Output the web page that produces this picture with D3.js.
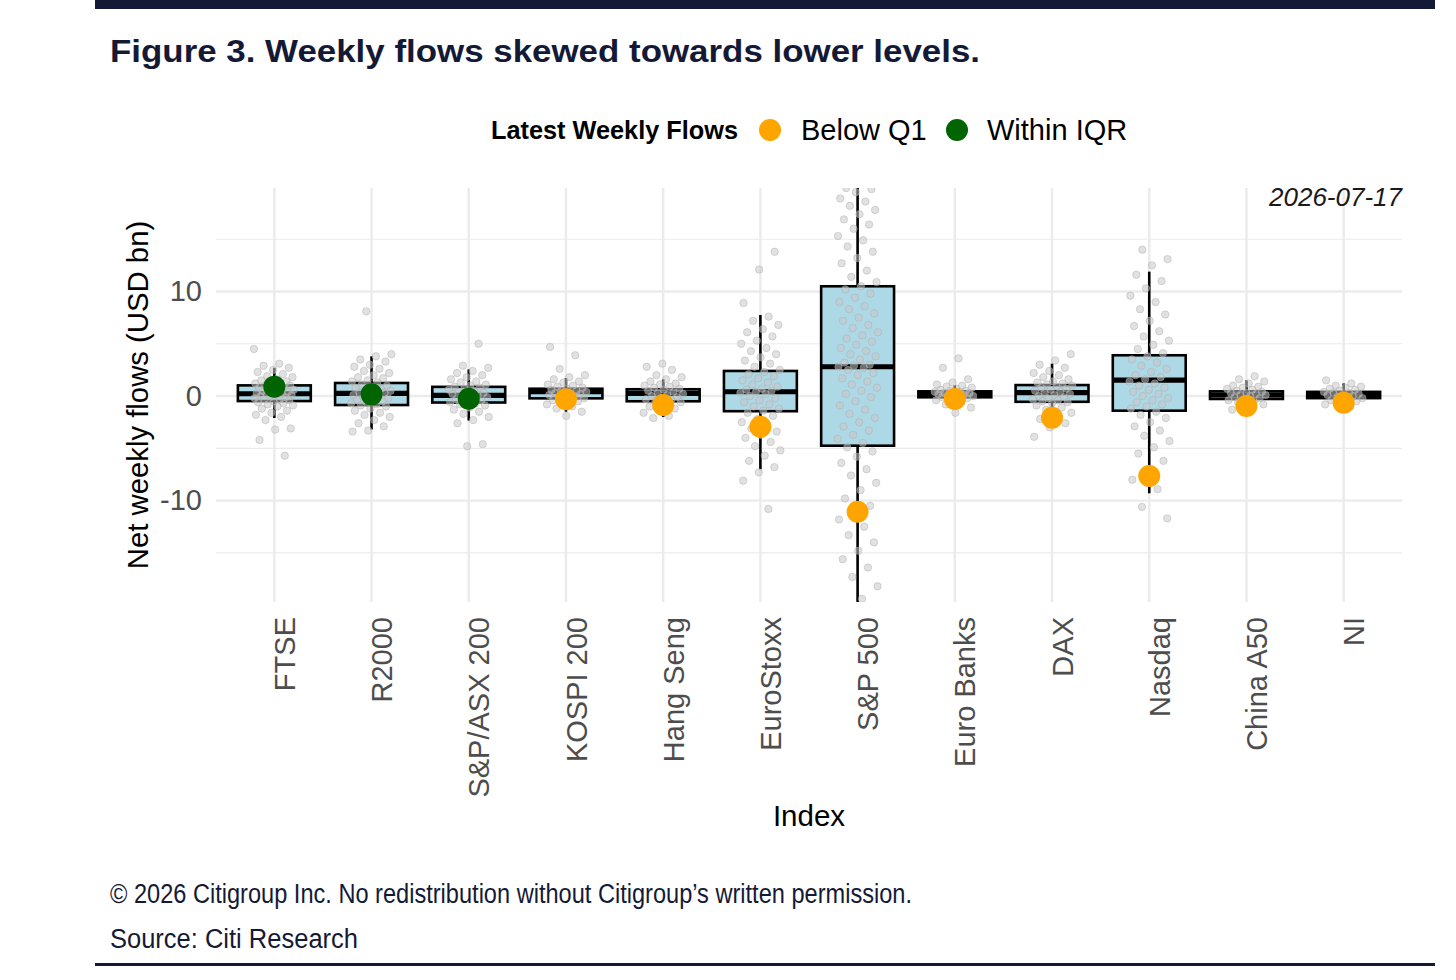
<!DOCTYPE html>
<html>
<head>
<meta charset="utf-8">
<script src="https://cdn.jsdelivr.net/npm/d3@7"></script>
<style>
  body { margin: 0; background: #fff; }
  svg text { font-family: "Liberation Sans", Arial, sans-serif; }
</style>
</head>
<body>
<svg id="chart" width="1456" height="980"></svg>
<script>
// categories in plot order
var categories = ["FTSE", "R2000", "S&P/ASX 200", "KOSPI 200", "Hang Seng", "EuroStoxx",
  "S&P 500", "Euro Banks", "DAX", "Nasdaq", "China A50", "NI"];

// box stats (USD bn)
var q1        = [-0.48, -0.86, -0.62, -0.22, -0.50, -1.45, -4.75, -0.12, -0.55, -1.40, -0.28, -0.20];
var medians   = [ 0.22,  0.26,  0.06,  0.42,  0.26,  0.41,  2.80,  0.20,  0.32,  1.53,  0.10,  0.10];
var q3        = [ 1.02,  1.25,  0.88,  0.70,  0.65,  2.40, 10.50,  0.45,  1.05,  3.90,  0.45,  0.40];
var whiskLow  = [-2.10, -3.20, -2.35, -1.50, -2.00, -7.00, -24.0, -0.80, -2.50, -9.30, -1.00, -0.70];
var whiskHigh = [ 2.70,  3.80,  2.55,  1.70,  1.60,  7.75,  24.0,  1.05,  3.10, 11.90,  1.50,  1.20];

// latest week
var latest       = [0.90, 0.16, -0.26, -0.30, -0.86, -2.93, -11.07, -0.29, -2.07, -7.65, -0.96, -0.64];
var latestStatus = ["Within IQR", "Within IQR", "Within IQR", "Below Q1", "Below Q1", "Below Q1",
  "Below Q1", "Below Q1", "Below Q1", "Below Q1", "Below Q1", "Below Q1"];

// weekly history (approximate)
var histFTSE = [4.5, 3.1, 2.9, 2.7, 2.5, 2.3, 2.1, 1.9, 1.8, 1.6, 1.5, 1.4, 1.3, 1.2, 1.1, 1.0, 1.0, 0.9, 0.8, 0.8, 0.7, 0.6, 0.6, 0.5, 0.4, 0.4, 0.3, 0.2, 0.2, 0.1, 0.1, 0.0, -0.1, -0.1, -0.2, -0.3, -0.3, -0.4, -0.5, -0.6, -0.7, -0.8, -0.9, -1.0, -1.2, -1.4, -1.6, -1.8, -2.0, -2.3, -3.1, -3.2, -4.2, -5.7];
var histR2000 = [8.1, 4.0, 3.8, 3.5, 3.3, 3.0, 2.8, 2.6, 2.4, 2.2, 2.0, 1.8, 1.7, 1.5, 1.4, 1.3, 1.1, 1.0, 0.9, 0.8, 0.7, 0.6, 0.5, 0.4, 0.3, 0.3, 0.2, 0.1, 0.0, -0.1, -0.2, -0.3, -0.4, -0.5, -0.6, -0.7, -0.8, -0.9, -1.0, -1.2, -1.4, -1.6, -1.8, -2.0, -2.3, -2.6, -2.9, -3.3, -3.4];
var histASX = [5.0, 2.9, 2.7, 2.4, 2.2, 2.0, 1.8, 1.6, 1.4, 1.3, 1.1, 1.0, 0.9, 0.8, 0.7, 0.6, 0.5, 0.4, 0.3, 0.2, 0.2, 0.1, 0.0, -0.1, -0.2, -0.3, -0.4, -0.5, -0.6, -0.7, -0.8, -0.9, -1.1, -1.3, -1.5, -1.7, -2.0, -2.3, -2.6, -4.6, -4.8];
var histKOSPI = [4.7, 3.9, 2.6, 2.0, 1.8, 1.6, 1.4, 1.3, 1.1, 1.0, 0.9, 0.8, 0.7, 0.6, 0.5, 0.5, 0.4, 0.3, 0.3, 0.2, 0.1, 0.1, 0.0, -0.1, -0.2, -0.3, -0.4, -0.5, -0.6, -0.8, -1.0, -1.2, -1.5, -1.9];
var histHangSeng = [3.1, 2.8, 2.5, 2.0, 1.8, 1.6, 1.4, 1.2, 1.1, 1.0, 0.9, 0.8, 0.7, 0.6, 0.5, 0.4, 0.3, 0.2, 0.1, 0.0, -0.1, -0.2, -0.3, -0.4, -0.5, -0.6, -0.8, -1.0, -1.2, -1.4, -1.6, -1.9, -2.1];
var histEuroStoxx = [13.8, 12.1, 8.9, 7.6, 7.2, 6.8, 6.4, 6.1, 5.7, 5.3, 5.0, 4.6, 4.3, 4.0, 3.7, 3.4, 3.1, 2.8, 2.5, 2.3, 2.1, 1.9, 1.7, 1.5, 1.3, 1.1, 0.9, 0.7, 0.6, 0.5, 0.4, 0.3, 0.2, 0.0, -0.2, -0.4, -0.6, -0.8, -1.0, -1.2, -1.4, -1.6, -1.9, -2.2, -2.5, -2.8, -3.1, -3.4, -3.7, -4.0, -4.4, -4.8, -5.2, -5.7, -6.2, -6.8, -7.3, -8.1, -10.8];
var histSP500 = [19.9, 19.8, 19.5, 18.9, 18.6, 18.2, 17.8, 17.4, 16.9, 16.4, 16.0, 15.3, 14.9, 14.3, 13.8, 13.2, 12.7, 12.0, 11.4, 10.9, 10.5, 10.2, 9.8, 9.4, 9.0, 8.6, 8.3, 7.9, 7.5, 7.2, 6.8, 6.5, 6.1, 5.8, 5.5, 5.2, 4.9, 4.6, 4.3, 4.0, 3.8, 3.5, 3.2, 3.0, 2.9, 2.8, 2.7, 2.5, 2.2, 2.0, 1.7, 1.4, 1.1, 0.8, 0.5, 0.2, -0.1, -0.5, -0.9, -1.3, -1.7, -2.1, -2.5, -2.9, -3.3, -3.7, -4.1, -4.5, -4.9, -5.3, -5.8, -6.4, -7.0, -7.6, -8.3, -9.0, -9.8, -10.5, -11.2, -11.8, -12.5, -13.3, -14.0, -14.8, -15.6, -16.4, -17.3, -18.2, -19.4];
var histEuroBanks = [3.6, 2.7, 1.6, 1.3, 1.1, 1.0, 0.9, 0.8, 0.7, 0.6, 0.5, 0.5, 0.4, 0.4, 0.3, 0.3, 0.2, 0.2, 0.1, 0.1, 0.0, 0.0, -0.1, -0.2, -0.3, -0.4, -0.6, -0.8, -1.1, -1.6];
var histDAX = [4.0, 3.4, 3.0, 2.7, 2.4, 2.2, 2.0, 1.8, 1.6, 1.4, 1.3, 1.2, 1.1, 1.0, 0.9, 0.8, 0.7, 0.6, 0.5, 0.4, 0.3, 0.2, 0.1, 0.0, -0.1, -0.2, -0.3, -0.4, -0.5, -0.6, -0.7, -0.9, -1.1, -1.3, -1.6, -1.9, -2.2, -2.6, -3.0, -3.9];
var histNasdaq = [14.0, 13.1, 12.5, 11.6, 11.0, 10.3, 9.6, 9.0, 8.3, 7.8, 7.2, 6.7, 6.2, 5.7, 5.3, 4.9, 4.5, 4.1, 3.8, 3.5, 3.2, 2.9, 2.6, 2.3, 2.0, 1.8, 1.6, 1.4, 1.2, 1.0, 0.8, 0.6, 0.4, 0.2, 0.0, -0.2, -0.4, -0.6, -0.8, -1.0, -1.2, -1.5, -1.8, -2.1, -2.5, -2.9, -3.3, -3.8, -4.3, -4.9, -5.5, -6.2, -7.0, -8.0, -8.9, -10.6, -11.7];
var histChinaA50 = [1.9, 1.6, 1.4, 1.2, 1.0, 0.9, 0.8, 0.7, 0.6, 0.5, 0.4, 0.3, 0.3, 0.2, 0.1, 0.1, 0.0, -0.1, -0.2, -0.3, -0.4, -0.5, -0.6, -0.8, -1.0, -1.3];
var histNI = [1.5, 1.2, 1.0, 0.9, 0.8, 0.7, 0.6, 0.5, 0.4, 0.3, 0.3, 0.2, 0.1, 0.1, 0.0, -0.1, -0.2, -0.3, -0.4, -0.5, -0.6, -0.8, -1.0];

var weeklyFlows = [histFTSE, histR2000, histASX, histKOSPI, histHangSeng, histEuroStoxx,
  histSP500, histEuroBanks, histDAX, histNasdaq, histChinaA50, histNI];

var yTicks = [-10, 0, 10];
var yMinor = [-15, -5, 5, 15];

(function () {
var navy = "#141a36";
var statusColor = { "Below Q1": "#FFA500", "Within IQR": "#006400" };

var svg = d3.select("#chart");

// page frame
svg.append("rect").attr("x", 95).attr("y", 0).attr("width", 1340).attr("height", 9).attr("fill", navy);
svg.append("rect").attr("x", 95).attr("y", 963).attr("width", 1340).attr("height", 3).attr("fill", navy);

svg.append("text")
    .attr("x", 110).attr("y", 62)
    .attr("font-family", "Roboto, sans-serif")
    .attr("font-weight", 700)
    .attr("font-size", 32)
    .attr("fill", navy)
    .attr("textLength", 870).attr("lengthAdjust", "spacingAndGlyphs")
    .text("Figure 3. Weekly flows skewed towards lower levels.");

var footer = [
  { text: "\u00a9 2026 Citigroup Inc. No redistribution without Citigroup\u2019s written permission.", y: 903, w: 802 },
  { text: "Source: Citi Research", y: 948, w: 248 }
];
svg.selectAll(".foot").data(footer).enter().append("text")
    .attr("class", "foot")
    .attr("x", 110).attr("y", function(d) { return d.y; })
    .attr("font-family", "Roboto, sans-serif")
    .attr("font-size", 27)
    .attr("fill", navy)
    .attr("textLength", function(d) { return d.w; }).attr("lengthAdjust", "spacingAndGlyphs")
    .text(function(d) { return d.text; });

// panel
var pLeft = 216, pRight = 1402, pTop = 188, pBottom = 602;

var x = d3.scalePoint().domain(categories).range([pLeft, pRight]).padding(0.6);
var y = d3.scaleLinear().domain([-19.7, 19.9]).range([pBottom, pTop]);
var step = x.step();
var boxW = step * 0.75;

var grid = svg.append("g").attr("stroke", "#ebebeb");
grid.selectAll(".minor").data(yMinor).enter().append("line")
    .attr("x1", pLeft).attr("x2", pRight)
    .attr("y1", function(d) { return y(d); }).attr("y2", function(d) { return y(d); })
    .attr("stroke-width", 1.2);
grid.selectAll(".major").data(yTicks).enter().append("line")
    .attr("x1", pLeft).attr("x2", pRight)
    .attr("y1", function(d) { return y(d); }).attr("y2", function(d) { return y(d); })
    .attr("stroke-width", 2.4);
grid.selectAll(".vert").data(categories).enter().append("line")
    .attr("x1", function(d) { return x(d); }).attr("x2", function(d) { return x(d); })
    .attr("y1", pTop).attr("y2", pBottom)
    .attr("stroke-width", 2.4);

svg.append("clipPath").attr("id", "panel")
  .append("rect").attr("x", pLeft).attr("y", pTop).attr("width", pRight - pLeft).attr("height", pBottom - pTop);

var plot = svg.append("g").attr("clip-path", "url(#panel)");

// whiskers
plot.append("g").selectAll("line").data(categories).enter().append("line")
    .attr("x1", function(d) { return x(d); }).attr("x2", function(d) { return x(d); })
    .attr("y1", function(d, i) { return y(whiskHigh[i]); })
    .attr("y2", function(d, i) { return y(whiskLow[i]); })
    .attr("stroke", "#000").attr("stroke-width", 2.6);

// boxes
plot.append("g").selectAll("rect").data(categories).enter().append("rect")
    .attr("x", function(d) { return x(d) - boxW / 2; })
    .attr("width", boxW)
    .attr("y", function(d, i) { return y(q3[i]); })
    .attr("height", function(d, i) { return y(q1[i]) - y(q3[i]); })
    .attr("fill", "#ADD8E6").attr("stroke", "#000").attr("stroke-width", 2.6);

plot.append("g").selectAll("line").data(categories).enter().append("line")
    .attr("x1", function(d) { return x(d) - boxW / 2; })
    .attr("x2", function(d) { return x(d) + boxW / 2; })
    .attr("y1", function(d, i) { return y(medians[i]); })
    .attr("y2", function(d, i) { return y(medians[i]); })
    .attr("stroke", "#000").attr("stroke-width", 5.2);

// grey weekly dots, spread sideways like a jitter
var dots = [];
weeklyFlows.forEach(function(vals, ci) {
  vals.forEach(function(v, j) {
    var u = (j * 0.618034 + ci * 0.37) % 1;
    dots.push({ cat: categories[ci], v: v, dx: (u - 0.5) * 0.42 * step });
  });
});
plot.append("g").selectAll("circle").data(dots).enter().append("circle")
    .attr("cx", function(d) { return x(d.cat) + d.dx; })
    .attr("cy", function(d) { return y(d.v); })
    .attr("r", 3.7)
    .attr("fill", "rgba(200,200,200,0.55)")
    .attr("stroke", "rgba(170,170,170,0.55)")
    .attr("stroke-width", 0.8);

// latest weekly flow
plot.append("g").selectAll("circle").data(categories).enter().append("circle")
    .attr("cx", function(d) { return x(d); })
    .attr("cy", function(d, i) { return y(latest[i]); })
    .attr("r", 11)
    .attr("fill", function(d, i) { return statusColor[latestStatus[i]]; });

// axes
var yAxis = svg.append("g")
    .attr("transform", "translate(" + pLeft + ",0)")
    .call(d3.axisLeft(y).tickValues(yTicks).tickSize(0).tickPadding(14)
      .tickFormat(function(d) { return String(d); }));
yAxis.select(".domain").remove();
yAxis.selectAll("text")
    .attr("font-family", "Liberation Sans, Arial, sans-serif")
    .attr("font-size", 29).attr("fill", "#4d4d4d");

var xAxis = svg.append("g")
    .attr("transform", "translate(0," + pBottom + ")")
    .call(d3.axisBottom(x).tickSize(0));
xAxis.select(".domain").remove();
xAxis.selectAll("text")
    .attr("font-family", "Liberation Sans, Arial, sans-serif")
    .attr("font-size", 29).attr("fill", "#4d4d4d")
    .attr("x", 0).attr("y", 0).attr("dy", "0.35em")
    .attr("text-anchor", "end")
    .attr("transform", "translate(10,15) rotate(-90)");

svg.append("text")
    .attr("transform", "translate(148," + ((222 + 568) / 2) + ") rotate(-90)")
    .attr("text-anchor", "middle")
    .attr("font-size", 29.3).attr("fill", "#000")
    .text("Net weekly flows (USD bn)");

svg.append("text")
    .attr("x", 809).attr("y", 826)
    .attr("text-anchor", "middle")
    .attr("font-size", 29.5).attr("fill", "#000")
    .text("Index");

svg.append("text")
    .attr("x", pRight).attr("y", 206)
    .attr("text-anchor", "end")
    .attr("font-style", "italic")
    .attr("font-size", 26).attr("fill", "#1a1a1a")
    .text("2026-07-17");

// legend
var legend = svg.append("g");
legend.append("text")
    .attr("x", 491).attr("y", 139)
    .attr("font-weight", 700).attr("font-size", 25.3).attr("fill", "#000")
    .text("Latest Weekly Flows");
var legendItems = [
  { key: "Below Q1", cx: 770, tx: 801 },
  { key: "Within IQR", cx: 957, tx: 987 }
];
legend.selectAll("circle").data(legendItems).enter().append("circle")
    .attr("cx", function(d) { return d.cx; }).attr("cy", 130).attr("r", 11)
    .attr("fill", function(d) { return statusColor[d.key]; });
legend.selectAll(".lab").data(legendItems).enter().append("text")
    .attr("class", "lab")
    .attr("x", function(d) { return d.tx; }).attr("y", 140)
    .attr("font-size", 29).attr("fill", "#000")
    .text(function(d) { return d.key; });
})();
</script>
</body>
</html>
